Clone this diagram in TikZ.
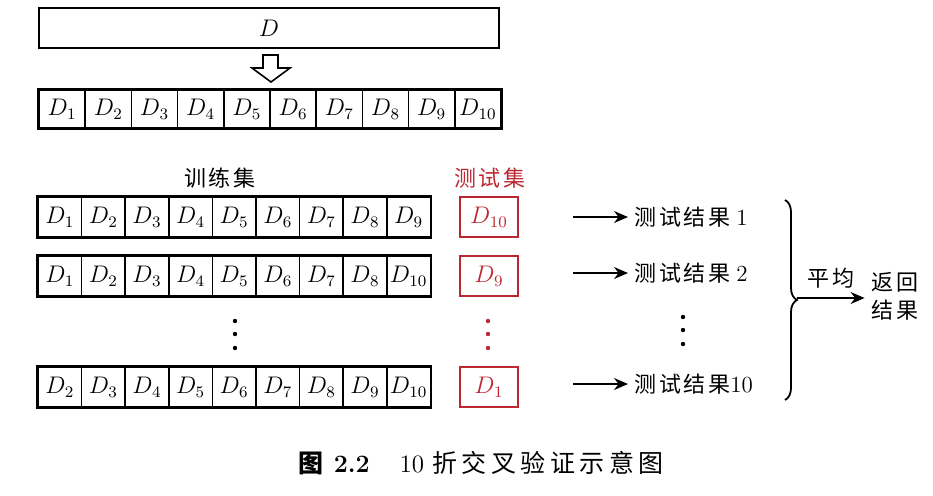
\documentclass[tikz,border=0pt]{standalone}
\usepackage{fontspec}
\newfontfamily\cjk[LetterSpace=12]{Noto Sans CJK SC}
\newfontfamily\capcjk[LetterSpace=18]{Noto Sans CJK SC}
\usetikzlibrary{arrows.meta,decorations.pathreplacing}
\definecolor{testred}{RGB}{188,40,50}

\begin{document}
\begin{tikzpicture}
  [x=0.5pt,y=-0.5pt,every node/.style={font=\fontsize{11.5}{13}\selectfont}]
  \tikzstyle{part} = [draw,line width=0.8pt,minimum width=23.1pt,minimum height=19pt,inner sep=0pt]
  \tikzstyle{fold} = [draw,line width=0.8pt,minimum width=21.8pt,minimum height=20pt,inner sep=0pt]
  \tikzstyle{frame} = [line width=1.1pt]
  \tikzstyle{test} = [draw=testred,text=testred,line width=1.1pt,minimum width=29pt,minimum height=20pt,inner sep=0pt]
  \tikzstyle{res} = [anchor=west,inner sep=3pt]
  \tikzstyle{zh} = [font=\fontsize{11}{13}\selectfont\cjk]
  \tikzstyle{arr} = [line width=0.9pt,-{Stealth[length=7pt,width=6pt]}]
  \useasboundingbox (0,0) rectangle (933,495);

  % whole data set and its ten parts
  \node[draw,line width=1pt,minimum width=230pt,minimum height=20pt] (whole) at (269,28) {$D$};
  \draw[line width=0.8pt] (263,55) -- (278,55) -- (278,68) -- (290,68) -- (271,82)
    -- (252,68) -- (263,68) -- cycle;
  \foreach \i in {1,...,10}
    \node[part] (p\i) at ({39+46.2*(\i-0.5)},109) {$D_{\i}$};
  \draw[frame] (p1.north west) rectangle (p10.south east);

  % training and test sets
  \node[zh] (train) at (220,178) {训练集};
  \node[zh,text=testred] (testlab) at (490,178) {测试集};
  \foreach \lab [count=\i] in {1,...,9}
    \node[fold] (a\i) at ({38+43.6*(\i-0.5)},217) {$D_{\lab}$};
  \foreach \lab [count=\i] in {1,...,8,10}
    \node[fold] (b\i) at ({38+43.6*(\i-0.5)},276) {$D_{\lab}$};
  \foreach \lab [count=\i] in {2,...,10}
    \node[fold] (c\i) at ({38+43.6*(\i-0.5)},387) {$D_{\lab}$};
  \foreach \row in {a,b,c}
    \draw[frame] (\row1.north west) rectangle (\row9.south east);
  \node[test] (ta) at (489,217) {$D_{10}$};
  \node[test] (tb) at (489,276) {$D_{9}$};
  \node[test] (tc) at (489,387) {$D_{1}$};
  \foreach \y in {321,334,348} {
    \fill (235,\y) circle (1.1pt);
    \fill[testred] (488,\y) circle (1.1pt);
    \fill (683,\y-4) circle (1.1pt);
  }

  % test results
  \node[res] (ra) at (628,217) {{\fontsize{11}{13}\cjk 测试结果}\hspace{3pt}1};
  \node[res] (rb) at (628,273) {{\fontsize{11}{13}\cjk 测试结果}\hspace{3pt}2};
  \node[res] (rc) at (628,384) {{\fontsize{11}{13}\cjk 测试结果}\hspace{0pt}10};
  \foreach \source /\dest in {ta/ra,tb/rb,tc/rc}
    \draw[arr] ([xshift=27pt]\source.east |- \dest.west) -- (\dest.west);

  % average
  \coordinate (btop) at (785,200);
  \coordinate (bbot) at (785,400);
  \coordinate (avg) at (797,298);
  \draw[line width=0.9pt,decorate,decoration={brace,amplitude=6pt}] (btop) -- (bbot);
  \node[zh,align=center] (ret) at (895,296) {返回\\[1pt]结果};
  \draw[arr] (avg) -- node[zh,above=1pt] {平均} (avg -| ret.west);

  \node (cap) at (481,463) {\fontsize{12.5}{14}\selectfont{\capcjk\bfseries 图}\hspace{3pt}\textbf{2.2}\hspace{15pt}10\hspace{4pt}{\capcjk 折交叉验证示意图}};
\end{tikzpicture}
\end{document}
